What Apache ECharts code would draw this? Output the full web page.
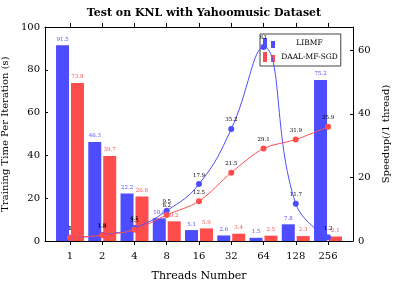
<!DOCTYPE html>
<html>
<head>
<meta charset="utf-8">
<script src="https://cdn.jsdelivr.net/npm/echarts@6/dist/echarts.min.js"></script>
<style>
  html, body { margin: 0; padding: 0; background: #fff; }
  #main { width: 404px; height: 296px; }
</style>
</head>
<body>
<div id="main"></div>
<script>
// thread counts (category labels)
const threads = ['1', '2', '4', '8', '16', '32', '64', '128', '256']
// training time per iteration (s)
const libmfTime = [91.5, 46.3, 22.2, 10.6, 5.1, 2.6, 1.5, 7.8, 75.2]
const daalTime = [73.8, 39.7, 20.8, 9.2, 5.9, 3.4, 2.5, 2.3, 2.1]
// speedup vs 1 thread
const libmfSpeedup = [1, 1.9, 4.1, 9.5, 17.9, 35.2, 61, 11.7, 1.2]
const daalSpeedup = [1, 1.8, 3.5, 8.2, 12.5, 21.5, 29.1, 31.9, 35.9]
const leftTicks = [0, 20, 40, 60, 80, 100]
const rightTicks = [0, 20, 40, 60]

const BLUE = '#4d4dff'
const RED = '#ff4d4d'
const FONT = 'DejaVu Serif'

const idx = threads.map((t, i) => i)
const pairs = arr => arr.map((v, i) => [i, v])

const myChart = echarts.init(document.getElementById('main'), null, { renderer: 'canvas' })

const axisLine = { show: true, onZero: false, lineStyle: { color: '#000', width: 1 } }

const barLabel = color => ({
  show: true,
  position: 'top',
  distance: 3,
  fontFamily: FONT,
  fontSize: 5.5,
  color: color,
  formatter: p => String(p.value[1])
})
const lineLabel = {
  show: true,
  position: 'top',
  distance: 3,
  fontFamily: FONT,
  fontSize: 5.5,
  color: '#000',
  formatter: p => String(p.value[1])
}

const option = {
  animation: false,
  backgroundColor: '#fff',
  title: {
    text: 'Test on KNL with Yahoomusic Dataset',
    left: 199,
    textAlign: 'center',
    top: 3,
    textStyle: { fontFamily: FONT, fontWeight: 'bold', fontSize: 11, color: '#000' }
  },
  legend: {
    orient: 'vertical',
    left: 260,
    top: 34,
    itemWidth: 13,
    itemHeight: 10,
    itemGap: 4,
    padding: [4, 3, 4, 3],
    borderColor: '#444',
    borderWidth: 1,
    backgroundColor: '#fff',
    data: [
      { name: 'LIBMF', icon: 'path://M0,0h4v10h-4z M8,3h4v7h-4z' },
      { name: 'DAAL-MF-SGD', icon: 'path://M0,0h4v10h-4z M8,3h4v7h-4z' }
    ],
    formatter: name => '{a|' + name + '}',
    textStyle: {
      rich: { a: { width: 58, align: 'center', fontFamily: FONT, fontSize: 7.5, color: '#000' } }
    }
  },
  grid: { left: 45, right: 51, top: 27, bottom: 55, outerBoundsMode: 'none', containLabel: false },
  xAxis: [
    {
      type: 'value',
      position: 'bottom',
      min: -0.775,
      max: 8.775,
      name: 'Threads Number',
      nameLocation: 'middle',
      nameGap: 30,
      nameTextStyle: { fontFamily: FONT, fontSize: 11, color: '#000' },
      axisLine: axisLine,
      axisTick: { show: true, inside: false, length: 4, customValues: idx, lineStyle: { color: '#000' } },
      axisLabel: {
        customValues: idx,
        margin: 10,
        fontFamily: FONT,
        fontSize: 10,
        color: '#000',
        formatter: v => threads[Math.round(v)]
      },
      splitLine: { show: false }
    },
    {
      type: 'value',
      position: 'top',
      min: -0.775,
      max: 8.775,
      axisLine: axisLine,
      axisTick: { show: true, inside: false, length: 4, customValues: idx, lineStyle: { color: '#000' } },
      axisLabel: { show: false },
      splitLine: { show: false }
    }
  ],
  yAxis: [
    {
      type: 'value',
      position: 'left',
      min: 0,
      max: 100,
      interval: 20,
      name: 'Training Time Per Iteration (s)',
      nameLocation: 'middle',
      nameRotate: 90,
      nameGap: 30,
      nameTextStyle: { fontFamily: FONT, fontSize: 10, color: '#000' },
      axisLine: axisLine,
      axisTick: { show: true, inside: true, length: 3, customValues: leftTicks, lineStyle: { color: '#000' } },
      axisLabel: { customValues: leftTicks, margin: 5, fontFamily: FONT, fontSize: 10, color: '#000' },
      splitLine: { show: false }
    },
    {
      type: 'value',
      position: 'right',
      min: 0,
      max: 67.3,
      name: 'Speedup(/1 thread)',
      nameLocation: 'middle',
      nameRotate: 90,
      nameGap: 22,
      nameTextStyle: { fontFamily: FONT, fontSize: 10, color: '#000' },
      axisLine: axisLine,
      axisTick: { show: true, inside: true, length: 3, customValues: rightTicks, lineStyle: { color: '#000' } },
      axisLabel: { customValues: rightTicks, margin: 5, fontFamily: FONT, fontSize: 10, color: '#000' },
      splitLine: { show: false }
    }
  ],
  series: [
    {
      name: 'LIBMF',
      type: 'bar',
      xAxisIndex: 0,
      yAxisIndex: 0,
      barWidth: 13,
      barGap: '15%',
      itemStyle: { color: BLUE },
      label: barLabel(BLUE),
      data: pairs(libmfTime)
    },
    {
      name: 'DAAL-MF-SGD',
      type: 'bar',
      xAxisIndex: 0,
      yAxisIndex: 0,
      barWidth: 13,
      barGap: '15%',
      itemStyle: { color: RED },
      label: barLabel(RED),
      data: pairs(daalTime)
    },
    {
      name: 'LIBMF speedup',
      type: 'line',
      xAxisIndex: 0,
      yAxisIndex: 1,
      z: 10,
      smooth: 0.45,
      symbol: 'circle',
      symbolSize: 6,
      lineStyle: { color: BLUE, width: 1 },
      itemStyle: { color: BLUE },
      label: lineLabel,
      data: pairs(libmfSpeedup)
    },
    {
      name: 'DAAL speedup',
      type: 'line',
      xAxisIndex: 0,
      yAxisIndex: 1,
      z: 10,
      smooth: 0.3,
      symbol: 'circle',
      symbolSize: 6,
      lineStyle: { color: RED, width: 1 },
      itemStyle: { color: RED },
      label: lineLabel,
      data: pairs(daalSpeedup)
    }
  ]
}

myChart.setOption(option)
</script>
</body>
</html>
